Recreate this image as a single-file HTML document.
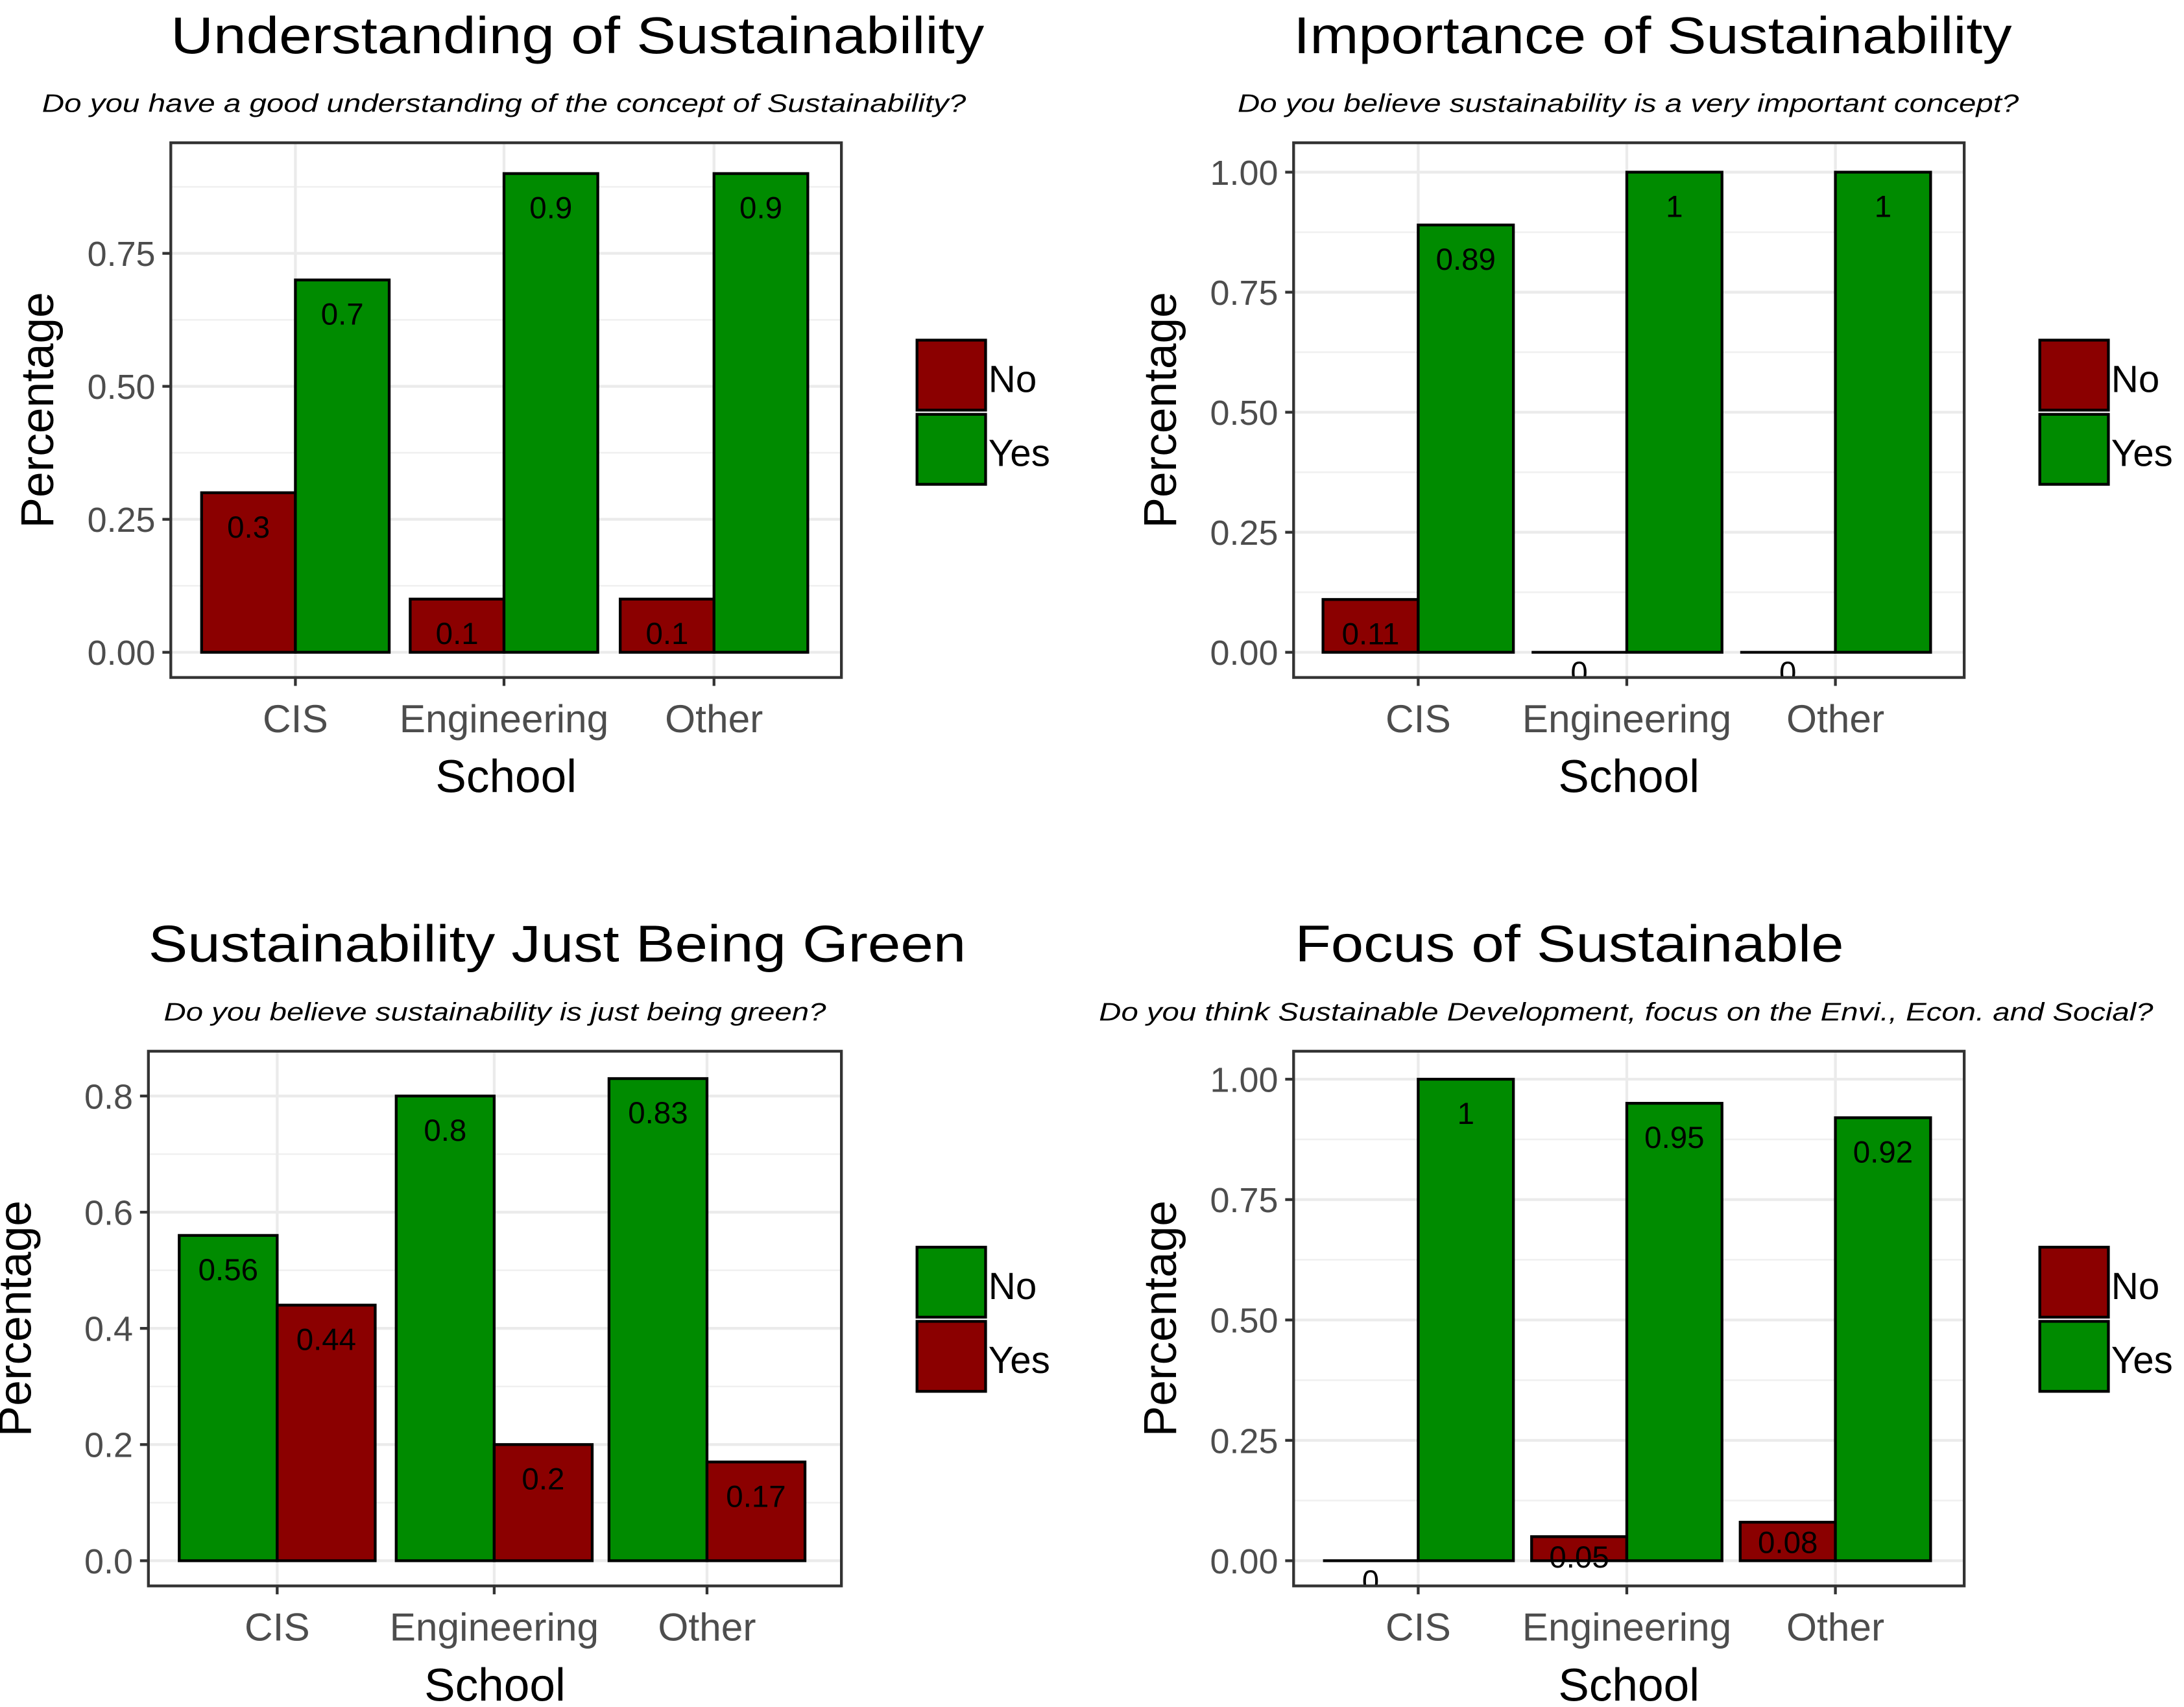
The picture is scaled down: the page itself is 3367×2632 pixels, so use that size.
<!DOCTYPE html>
<html><head><meta charset="utf-8"><style>
html,body{margin:0;padding:0;background:#fff}
svg{display:block}
text{font-family:"Liberation Sans",sans-serif}
</style></head><body>
<svg id="s" width="3367" height="2632" viewBox="0 0 1560 1219.5" preserveAspectRatio="none" xmlns="http://www.w3.org/2000/svg"></svg>
<script>
const categories = ["CIS","Engineering","Other"];
const p1No = [0.3,0.1,0.1];
const p1Yes = [0.7,0.9,0.9];
const p2No = [0.11,0,0];
const p2Yes = [0.89,1,1];
const p3No = [0.56,0.8,0.83];
const p3Yes = [0.44,0.2,0.17];
const p4No = [0,0.05,0.08];
const p4Yes = [1,0.95,0.92];
const ticks1 = ["0.00","0.25","0.50","0.75"];
const ticks2 = ["0.00","0.25","0.50","0.75","1.00"];
const ticks3 = ["0.0","0.2","0.4","0.6","0.8"];
const titles = ["Understanding of Sustainability","Importance of Sustainability","Sustainability Just Being Green","Focus of Sustainable"];
const subtitles = ["Do you have a good understanding of the concept of Sustainability?","Do you believe sustainability is a very important concept?","Do you believe sustainability is just being green?","Do you think Sustainable Development, focus on the Envi., Econ. and Social?"];
const RED="#8b0000", GREEN="#008b00";
const svg=document.getElementById('s');
const NS="http://www.w3.org/2000/svg";
function mk(tag,attrs,parent,txt){const e=document.createElementNS(NS,tag);for(const k in attrs)e.setAttribute(k,attrs[k]);if(txt!==undefined)e.textContent=txt;(parent||svg).appendChild(e);return e;}
const panels=[
 {id:"understanding",x0:122,x1:601,y0:102,y1:484,zero:466,scale:380,ticks:ticks1,tstep:0.25,max:0.95,cx:[211,360,510],bw:67,no:p1No,yes:p1Yes,noCol:RED,yesCol:GREEN,lx:655,ly:243,leg:[["No",RED],["Yes",GREEN]],tx:[122,703],sx:[30,690],ty:0},
 {id:"importance",x0:924,x1:1403,y0:102,y1:484,zero:466,scale:343,ticks:ticks2,tstep:0.25,max:1.04,cx:[1013,1162,1311],bw:68,no:p2No,yes:p2Yes,noCol:RED,yesCol:GREEN,lx:1457,ly:243,leg:[["No",RED],["Yes",GREEN]],tx:[924,1437],sx:[884,1442],ty:0},
 {id:"green",x0:106,x1:601,y0:751,y1:1133,zero:1115,scale:415,ticks:ticks3,tstep:0.2,max:0.85,cx:[198,353,505],bw:70,no:p3No,yes:p3Yes,noCol:GREEN,yesCol:RED,lx:655,ly:891,leg:[["No",GREEN],["Yes",RED]],tx:[106,690],sx:[117,590],ty:649},
 {id:"focus",x0:924,x1:1403,y0:751,y1:1133,zero:1115,scale:344,ticks:ticks2,tstep:0.25,max:1.04,cx:[1013,1162,1311],bw:68,no:p4No,yes:p4Yes,noCol:RED,yesCol:GREEN,lx:1457,ly:891,leg:[["No",RED],["Yes",GREEN]],tx:[925,1317],sx:[785,1538],ty:649}
];
panels.forEach((p,pi)=>{
 const g=mk('g',{});
 
 
 const y=v=>p.zero-v*p.scale;
 const t=mk('text',{x:p.tx[0],y:p.ty+38,'font-size':37,textLength:p.tx[1]-p.tx[0],lengthAdjust:'spacingAndGlyphs',fill:'#000'},g,titles[pi]);
 
 
 const st=mk('text',{x:p.sx[0],y:p.ty+80,'font-size':18,'font-style':'italic',textLength:p.sx[1]-p.sx[0],lengthAdjust:'spacingAndGlyphs',fill:'#000'},g,subtitles[pi]);
 
 
 const cid='clip'+pi;
 const cp=mk('clipPath',{id:cid},g);mk('rect',{x:p.x0,y:p.y0,width:p.x1-p.x0,height:p.y1-p.y0},cp);
 const plot=mk('g',{'clip-path':'url(#'+cid+')'},g);
 
 
 for(let v=p.tstep/2; v<=p.max; v+=p.tstep){mk('line',{x1:p.x0,x2:p.x1,y1:y(v),y2:y(v),stroke:'#f0f0f0','stroke-width':1.2},plot);}
 p.ticks.forEach(lab=>{const v=parseFloat(lab);mk('line',{x1:p.x0,x2:p.x1,y1:y(v),y2:y(v),stroke:'#ebebeb','stroke-width':2},plot);});
 p.cx.forEach(c=>mk('line',{x1:c,x2:c,y1:p.y0,y2:p.y1,stroke:'#ebebeb','stroke-width':2},plot));
 categories.forEach((cat,i)=>{
  [[p.no[i],p.noCol,-1,'no'],[p.yes[i],p.yesCol,0,'yes']].forEach(([v,col,off,nm])=>{
   const bx=p.cx[i]+off*p.bw;
   let r;
   if(v===0){r=mk('line',{x1:bx,x2:bx+p.bw,y1:y(0),y2:y(0),stroke:'#000','stroke-width':2},plot);}
   else r=mk('rect',{x:bx,y:y(v),width:p.bw,height:v*p.scale,fill:col,stroke:'#000','stroke-width':2},plot);
   
   
   const lt=mk('text',{x:bx+p.bw/2,y:y(v)+(v<0.1?22:32),'font-size':22,'text-anchor':'middle',fill:'#000'},plot,String(v));
   
   
  });
 });
 mk('rect',{x:p.x0,y:p.y0,width:p.x1-p.x0,height:p.y1-p.y0,fill:'none',stroke:'#333','stroke-width':2},g);
 p.ticks.forEach(lab=>{const v=parseFloat(lab);
  mk('line',{x1:p.x0-6,x2:p.x0,y1:y(v),y2:y(v),stroke:'#333','stroke-width':2},g);
  const tt=mk('text',{x:p.x0-11,y:y(v)+9,'font-size':25,'text-anchor':'end',fill:'#4d4d4d'},g,lab);
  
  
 });
 categories.forEach((cat,i)=>{
  mk('line',{x1:p.cx[i],x2:p.cx[i],y1:p.y1,y2:p.y1+6,stroke:'#333','stroke-width':2},g);
  const xt=mk('text',{x:p.cx[i],y:p.y1+39,'font-size':28,'text-anchor':'middle',fill:'#4d4d4d'},g,cat);
  
  
 });
 const xl=mk('text',{x:(p.x0+p.x1)/2,y:p.y1+82,'font-size':33,'text-anchor':'middle',fill:'#000'},g,'School');
 
 
 const yc=(p.y0+p.y1)/2, yx=p.x0-84;
 const yl=mk('text',{x:yx,y:yc,'font-size':33,'text-anchor':'middle',fill:'#000',transform:'rotate(-90 '+yx+' '+yc+')'},g,'Percentage');
 
 
 p.leg.forEach(([lab,col],k)=>{
  const ly=p.ly+k*53;
  const lr=mk('rect',{x:p.lx,y:ly,width:49,height:50,fill:col,stroke:'#000','stroke-width':2},g);
  
  
  const lt=mk('text',{x:p.lx+51,y:ly+37,'font-size':27,fill:'#000'},g,lab);
  
  
 });
});
</script>
</body></html>
